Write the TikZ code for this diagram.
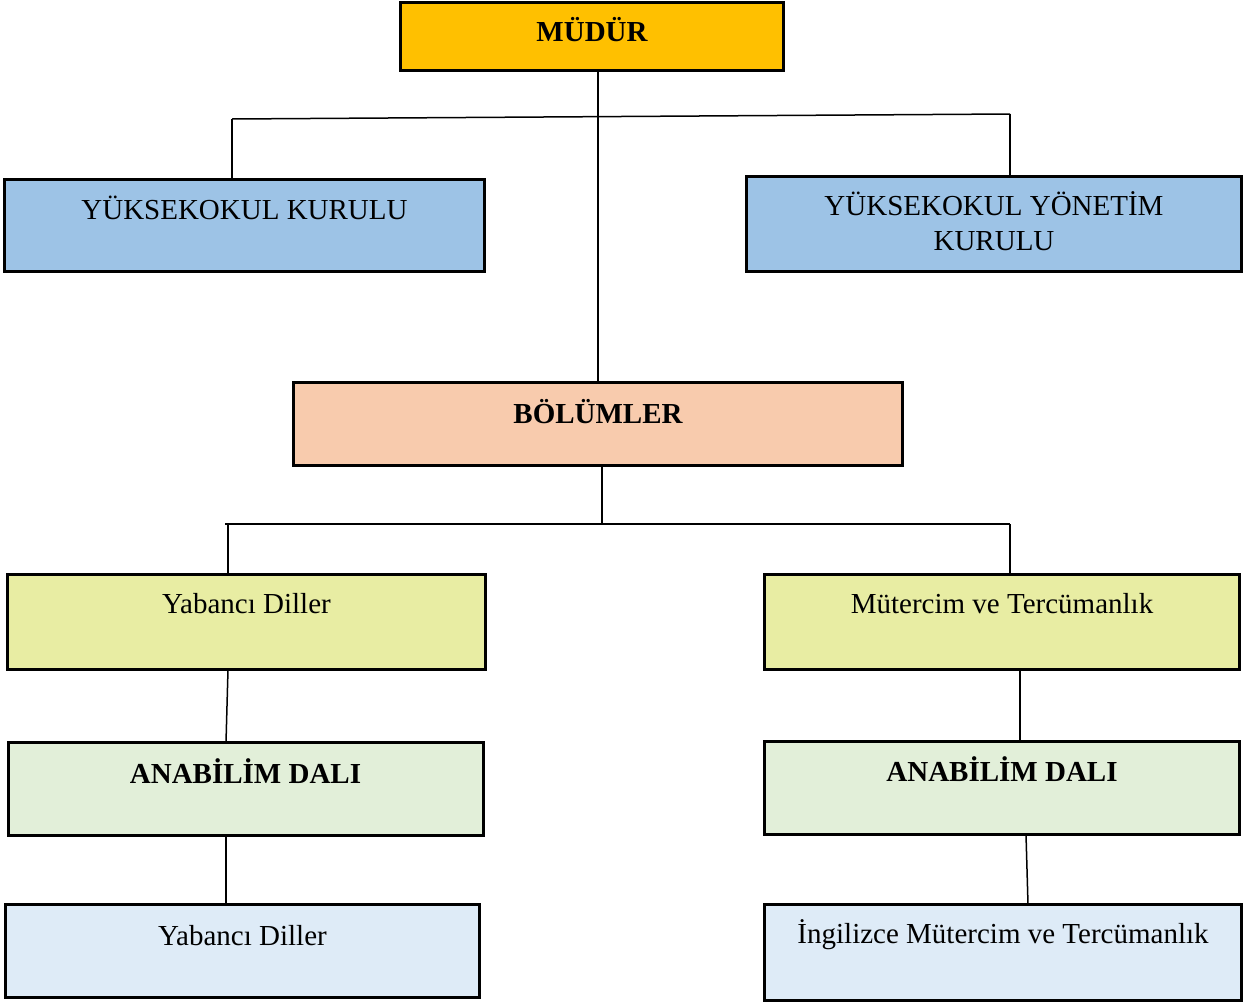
\documentclass[tikz,border=0pt]{standalone}
\usepackage{fontspec}
\setmainfont{Liberation Serif}
\definecolor{cMud}{HTML}{FFC000}
\definecolor{cBlue}{HTML}{9DC3E6}
\definecolor{cBol}{HTML}{F8CBAD}
\definecolor{cYel}{HTML}{E8EDA3}
\definecolor{cGrn}{HTML}{E2EFD9}
\definecolor{cLbl}{HTML}{DEEBF7}
\begin{document}
\begin{tikzpicture}[x=1pt,y=-1pt,
  box/.style={draw=black, line width=3pt, rectangle, anchor=north west,
    inner xsep=0pt, inner ysep=0pt, outer sep=0pt, align=center,
    font=\fontsize{29}{35}\selectfont},
  conn/.style={draw=black, line width=1.5pt}]
\useasboundingbox (0,0) rectangle (1249,1004);
% boxes: minimum width = W, text height = baseline - top, text depth = bottom - baseline
\node[box, fill=cMud, minimum width=383pt, text height=38.5pt, text depth=29.5pt, font=\fontsize{29}{35}\selectfont\bfseries] (mud) at (400.5,2.5) {MÜDÜR};
\node[box, fill=cBlue, minimum width=480pt, text height=39.5pt, text depth=52.5pt] (kur) at (4.5,179.5) {YÜKSEKOKUL KURULU};
\node[box, fill=cBlue, minimum width=495pt, text height=73.5pt, text depth=21.5pt] (yon) at (746.5,176.5) {YÜKSEKOKUL YÖNETİM\\KURULU};
\node[box, fill=cBol, minimum width=609pt, text height=40.5pt, text depth=42.5pt, font=\fontsize{29}{35}\selectfont\bfseries] (bol) at (293.5,382.5) {BÖLÜMLER};
\node[box, fill=cYel, minimum width=478pt, text height=38.5pt, text depth=56.5pt] (yd1) at (7.5,574.5) {Yabancı Diller};
\node[box, fill=cYel, minimum width=475pt, text height=38.5pt, text depth=56.5pt] (mt) at (764.5,574.5) {Mütercim ve Tercümanlık};
\node[box, fill=cGrn, minimum width=475pt, text height=40.5pt, text depth=52.5pt, font=\fontsize{29}{35}\selectfont\bfseries] (ad1) at (8,742.5) {ANABİLİM DALI};
\node[box, fill=cGrn, minimum width=475pt, text height=39.5pt, text depth=53.5pt, font=\fontsize{29}{35}\selectfont\bfseries] (ad2) at (764.5,741.5) {ANABİLİM DALI};
\node[box, fill=cLbl, minimum width=474pt, text height=40.5pt, text depth=52.5pt] (yd2) at (5.5,904.5) {Yabancı Diller};
\node[box, fill=cLbl, minimum width=477pt, text height=38.5pt, text depth=57pt] (ing) at (764.5,904.5) {İngilizce Mütercim ve Tercümanlık};
% connector helper coordinates
\coordinate (h1l) at (232,119);
\coordinate (h1r) at (1010,114);
\coordinate (h2l) at (225,524);
\coordinate (h2r) at (1010,524);
\coordinate (xa) at (598,0);
\coordinate (xb) at (602,0);
\coordinate (xc) at (228,0);
\coordinate (xd) at (226,0);
\coordinate (xe) at (1020,0);
\coordinate (xf) at (1026,0);
\coordinate (xg) at (1028,0);
% connectors
\draw[conn] (mud.south -| xa) -- (bol.north -| xa);
\draw[conn] (h1l) -- (h1r);
\draw[conn] (h1l) -- (kur.north -| h1l);
\draw[conn] (h1r) -- (yon.north -| h1r);
\draw[conn] (bol.south -| xb) -- (h2l -| xb);
\draw[conn] (h2l) -- (h2r);
\draw[conn] (h2l -| xc) -- (yd1.north -| xc);
\draw[conn] (h2r) -- (mt.north -| h2r);
\draw[conn] (yd1.south -| xc) -- (ad1.north -| xd);
\draw[conn] (mt.south -| xe) -- (ad2.north -| xe);
\draw[conn] (ad1.south -| xd) -- (yd2.north -| xd);
\draw[conn] (ad2.south -| xf) -- (ing.north -| xg);
\end{tikzpicture}
\end{document}
